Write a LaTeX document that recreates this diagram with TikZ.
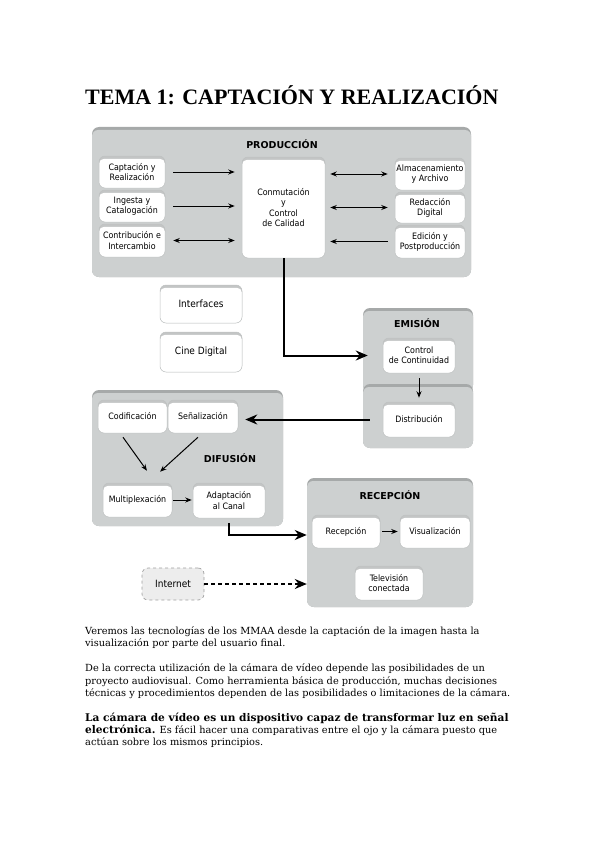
\documentclass[tikz,border=0pt]{standalone}
\usepackage{fontspec}
\setmainfont{DejaVu Serif}
\newfontfamily\titlefont{Liberation Serif}
\newfontfamily\labelfont{DejaVu Sans Condensed}
\newfontfamily\headfont{DejaVu Sans}
\usetikzlibrary{arrows.meta}

\definecolor{contfill}{HTML}{CDD0D0}
\definecolor{contband}{HTML}{A6A9A9}
\definecolor{boxband}{HTML}{C3C5C5}
\definecolor{boxedge}{HTML}{BEC1C1}
\definecolor{netfill}{HTML}{EDEDED}
\definecolor{netedge}{HTML}{A0A0A0}

\tikzset{
  sz/.style 2 args={minimum width=#1pt, minimum height=#2pt},
  container/.style={rectangle, rounded corners=7pt, fill=contband, inner sep=0pt,
    path picture={\fill[contfill, rounded corners=6pt]
      ([yshift=-3pt]path picture bounding box.north west) rectangle
      ([yshift=-12pt]path picture bounding box.south east);}},
  wbox/.style={rectangle, rounded corners=6pt, fill=boxband, draw=boxedge, line width=0.5pt,
    inner sep=1pt, align=center, font=\labelfont\fontsize{8.8}{10.2}\selectfont,
    path picture={\fill[white, rounded corners=5pt]
      ([yshift=-2.8pt]path picture bounding box.north west) rectangle
      ([yshift=-12pt]path picture bounding box.south east);}},
  bigtext/.style={font=\labelfont\fontsize{10}{12}\selectfont},
  head/.style={font=\headfont\bfseries\fontsize{9.5}{11}\selectfont, inner sep=0pt},
  netbox/.style={rectangle, rounded corners=6pt, fill=netfill, draw=netedge, dashed,
    line width=0.7pt, inner sep=1pt, font=\labelfont\fontsize{10}{12}\selectfont},
  sarrow/.style={line width=1pt, -{Stealth[length=6.5pt,width=5pt]}},
  sdarrow/.style={line width=1pt, {Stealth[length=6.5pt,width=5pt]}-{Stealth[length=6.5pt,width=5pt]}},
  barrow/.style={line width=2pt, -{Stealth[length=12pt,width=10pt]}},
  darrow/.style={line width=1.5pt, dash pattern=on 4pt off 3pt, -{Stealth[length=12pt,width=10pt]}},
  bodyline/.style={anchor=base west, inner sep=0pt, font=\fontsize{9.8}{12}\selectfont},
  boldpart/.style={font=\bfseries\fontsize{10.6}{12}\selectfont},
}

\begin{document}
\begin{tikzpicture}[x=1pt,y=-1pt]
\useasboundingbox (0,0) rectangle (599,848);

% title
\node[anchor=base west, inner sep=0pt, font=\titlefont\bfseries\fontsize{22}{26}\selectfont]
  (title) at (85,105) {TEMA 1: CAPTACIÓN Y REALIZACIÓN};

% ---------- PRODUCCION
\node[container, sz={379}{150}] (prod) at (281.5,202) {};
\node[head] (prodt) at (282,144) {PRODUCCIÓN};
\node[wbox, sz={66}{32}] (capt) at (132,172) {Captación y\\Realización};
\node[wbox, sz={66}{32}] (ing) at (132,206) {Ingesta y\\Catalogación};
\node[wbox, sz={66}{33}] (contr) at (132,240.5) {Contribución e\\Intercambio};
\node[wbox, sz={83}{101}] (conm) at (283.5,207.5) {Conmutación\\y\\Control\\de Calidad};
\node[wbox, sz={70}{32}] (alm) at (430,174) {Almacenamiento\\y Archivo};
\node[wbox, sz={70}{31}] (red) at (430,207.5) {Redacción\\Digital};
\node[wbox, sz={70}{33}] (edi) at (430,241.5) {Edición y\\Postproducción};

\draw[sarrow, shorten <=8pt, shorten >=7pt] (capt.east) -- (capt.east -| conm.west);
\draw[sarrow, shorten <=8pt, shorten >=7pt] (ing.east) -- (ing.east -| conm.west);
\draw[sdarrow, shorten <=8pt, shorten >=7pt] (contr.east) -- (contr.east -| conm.west);
\draw[sdarrow, shorten <=5pt, shorten >=7pt] (alm.west -| conm.east) -- (alm.west);
\draw[sdarrow, shorten <=5pt, shorten >=7pt] (red.west -| conm.east) -- (red.west);
\draw[sarrow, shorten <=7pt, shorten >=5pt] (edi.west) -- (edi.west -| conm.east);

% ---------- Interfaces / Cine
\node[wbox, bigtext, sz={82}{38}] (intf) at (201,304) {Interfaces};
\node[wbox, bigtext, sz={82}{40}] (cine) at (201,352) {Cine Digital};

% ---------- EMISION
\node[container, sz={110}{84}] (emi) at (418,350) {};
\node[container, sz={110}{64}] (emib) at (418,416) {};
\node[head] (emit) at (417,323) {EMISIÓN};
\node[wbox, sz={72}{35}] (ctrl) at (419,355.5) {Control\\de Continuidad};
\node[wbox, sz={72}{35}] (dist) at (419,419.5) {Distribución};
\draw[sarrow, shorten <=5pt, shorten >=4pt] (ctrl.south) -- (dist.north);

\draw[barrow, shorten >=15pt] (conm.south) |- (ctrl.west);

% ---------- DIFUSION
\node[container, sz={191}{136}] (dif) at (187.5,458) {};
\node[head] (dift) at (230,458) {DIFUSIÓN};
\node[wbox, sz={69}{33}] (cod) at (132.5,416.5) {Codificación};
\node[wbox, sz={70}{33}] (sen) at (203,416.5) {Señalización};
\node[wbox, sz={69}{34}] (mux) at (137.5,500) {Multiplexación};
\node[wbox, sz={72}{35}] (adap) at (229,500.5) {Adaptación\\al Canal};

\draw[barrow, shorten <=13pt, shorten >=7pt] (dist.west) -- (dist.west -| sen.east);
\draw[sarrow] ([xshift=-9.5pt,yshift=-4pt]cod.south) -- ([xshift=9.5pt,yshift=12pt]mux.north);
\draw[sarrow] ([xshift=-5pt,yshift=-4pt]sen.south) -- ([xshift=22.5pt,yshift=11pt]mux.north);
\draw[sarrow, shorten <=1pt, shorten >=1pt] (mux.east) -- (mux.east -| adap.west);

% ---------- RECEPCION
\node[container, sz={166}{129}] (rec) at (390,542.5) {};
\node[head] (rect) at (390,495) {RECEPCIÓN};
\node[wbox, sz={68}{33}] (recb) at (346,531.5) {Recepción};
\node[wbox, sz={70}{33}] (vis) at (435,531.5) {Visualización};
\node[wbox, sz={68}{34}] (tele) at (389,583) {Televisión\\conectada};
\draw[sarrow, shorten <=2pt, shorten >=2pt] (recb.east) -- (recb.east -| vis.west);

\draw[barrow, shorten <=5pt, shorten >=5pt] (adap.south) |- ([yshift=-3.5pt]recb.west);

% ---------- Internet
\node[netbox, sz={62}{32}] (inet) at (173,584) {Internet};
\draw[darrow] (inet.east) -- (inet.east -| rec.west);

% ---------- text
\node[bodyline] (l1) at (85,634) {Veremos las tecnologías de los MMAA desde la captación de la imagen hasta la};
\node[bodyline] (l2) at (85,646.5) {visualización por parte del usuario final.};
\node[bodyline] (l3) at (85,671.5) {De la correcta utilización de la cámara de vídeo depende las posibilidades de un};
\node[bodyline] (l4) at (85,684) {proyecto audiovisual. Como herramienta básica de producción, muchas decisiones};
\node[bodyline] (l5) at (85,696.5) {técnicas y procedimientos dependen de las posibilidades o limitaciones de la cámara.};
\node[bodyline] (l6) at (85,721) {\tikzset{}{\bfseries\fontsize{10.6}{12}\selectfont La cámara de vídeo es un dispositivo capaz de transformar luz en señal}};
\node[bodyline] (l7) at (85,733.3) {{\bfseries\fontsize{10.6}{12}\selectfont electrónica.} Es fácil hacer una comparativas entre el ojo y la cámara puesto que};
\node[bodyline] (l8) at (85,745.6) {actúan sobre los mismos principios.};
\end{tikzpicture}
\end{document}
